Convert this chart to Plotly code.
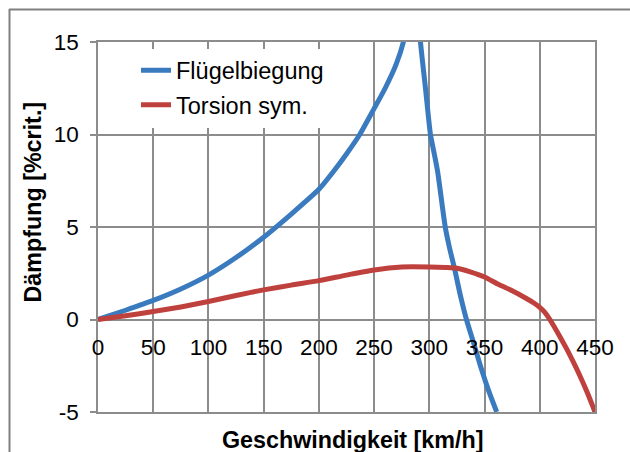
import plotly.graph_objects as go

# ---- data ----
blue_name = "Flügelbiegung"
blue_x = [0, 25, 50, 75, 100, 125, 150, 175, 200, 212.5, 225, 237, 250, 260, 270, 276.5, 282, 286,
          290, 292, 296.5, 301, 304, 307.5, 314.4, 318, 323, 328, 333.6, 340, 347, 354, 361]
blue_y = [0, 0.5, 1.03, 1.65, 2.4, 3.35, 4.45, 5.7, 7.04, 7.95, 8.95, 10.0, 11.4, 12.5, 13.8, 15.0, 17.0, 19.5,
          17.0, 15.0, 12.5, 10.0, 9.1, 8.0, 5.0, 3.95, 2.7, 1.33, 0.0, -1.25, -2.65, -3.9, -5.0]

red_name = "Torsion sym."
red_x = [0, 25, 50, 75, 100, 125, 150, 175, 200, 225, 250, 275, 300, 315, 325, 337, 350, 362.5, 375,
         387.5, 395, 400, 404, 408, 412, 418, 424, 430, 436, 443, 450]
red_y = [0, 0.2, 0.43, 0.68, 0.97, 1.3, 1.6, 1.86, 2.1, 2.4, 2.68, 2.84, 2.84, 2.81, 2.77, 2.58, 2.3, 1.9, 1.55,
         1.15, 0.88, 0.66, 0.42, 0.1, -0.28, -0.9, -1.55, -2.25, -3.0, -3.95, -5.0]

x_ticks = [0, 50, 100, 150, 200, 250, 300, 350, 400, 450]
y_ticks = [-5, 0, 5, 10, 15]
x_title = "Geschwindigkeit [km/h]"
y_title = "Dämpfung [%crit.]"

BLUE = "#3A7ABE"
RED = "#BF413E"
GRID = "#8C8C8C"
FONT = "Liberation Sans, Arial, sans-serif"

W, H = 630, 452
ML, MR, MT, MB = 98, 35, 42, 40
PW, PH = W - ML - MR, H - MT - MB


def px_to_paper_x(px):
    return (px - ML) / PW


def px_to_paper_y(py):
    return (H - MB - py) / PH


fig = go.Figure()
fig.add_trace(go.Scatter(x=blue_x, y=blue_y, mode="lines", name=blue_name,
                         line=dict(color=BLUE, width=5, shape="spline", smoothing=0.6),
                         legendgroup="a", xaxis="x", yaxis="y"))
fig.add_trace(go.Scatter(x=red_x, y=red_y, mode="lines", name=red_name,
                         line=dict(color=RED, width=5, shape="spline", smoothing=0.6),
                         legendgroup="b", xaxis="x2", yaxis="y"))

BORDER = dict(color="#808080", width=2)

fig.update_layout(
    width=W, height=H,
    margin=dict(l=ML, r=MR, t=MT, b=MB, pad=0),
    paper_bgcolor="white", plot_bgcolor="white",
    font=dict(family=FONT, color="black", size=22.5),
    showlegend=True,
    legend=dict(x=px_to_paper_x(136), xanchor="left", y=px_to_paper_y(48.5), yanchor="top",
                bgcolor="white", borderwidth=0, font=dict(size=23.5, family=FONT),
                traceorder="grouped", tracegroupgap=1),
    xaxis=dict(range=[0, 450], tickvals=x_ticks, showticklabels=False,
               showgrid=True, gridcolor=GRID, gridwidth=1.5,
               showline=True, linecolor=GRID, linewidth=1.5, mirror=True,
               zeroline=False, ticks=""),
    xaxis2=dict(overlaying="x", matches="x", anchor="free", position=0.25,
                range=[0, 450], tickvals=x_ticks, ticktext=[str(v) for v in x_ticks],
                showgrid=False, showline=False, zeroline=False, ticks="",
                tickfont=dict(size=22.5, family=FONT, color="black"),
                ticklabelstandoff=12),
    yaxis=dict(range=[-5, 15], tickvals=y_ticks, ticktext=[str(v) for v in y_ticks],
               showgrid=True, gridcolor=GRID, gridwidth=1.5,
               showline=True, linecolor=GRID, linewidth=1.5, mirror=True,
               zeroline=True, zerolinecolor=GRID, zerolinewidth=1.5,
               ticks="outside", ticklen=6, tickwidth=1.5, tickcolor=GRID,
               tickfont=dict(size=22.5, family=FONT, color="black"),
               ticklabelstandoff=7),
    annotations=[
        dict(text=x_title, xref="paper", yref="paper",
             x=px_to_paper_x(353), y=px_to_paper_y(440), xanchor="center", yanchor="middle",
             showarrow=False, font=dict(size=23.3, family=FONT, color="black", weight="bold")),
        dict(text=y_title, xref="paper", yref="paper", textangle=-90,
             x=px_to_paper_x(32.5), y=px_to_paper_y(202), xanchor="center", yanchor="middle",
             showarrow=False, font=dict(size=23.3, family=FONT, color="black", weight="bold")),
    ],
    shapes=[
        # chart-area frame: top edge and left edge (right/bottom lie outside the picture)
        dict(type="line", xref="paper", yref="paper",
             x0=px_to_paper_x(9), x1=px_to_paper_x(640),
             y0=px_to_paper_y(9.5), y1=px_to_paper_y(9.5),
             line=BORDER, layer="above"),
        dict(type="line", xref="paper", yref="paper",
             x0=px_to_paper_x(9.5), x1=px_to_paper_x(9.5),
             y0=px_to_paper_y(9), y1=px_to_paper_y(460),
             line=BORDER, layer="above"),
    ],
)

fig.write_html("out.html")
